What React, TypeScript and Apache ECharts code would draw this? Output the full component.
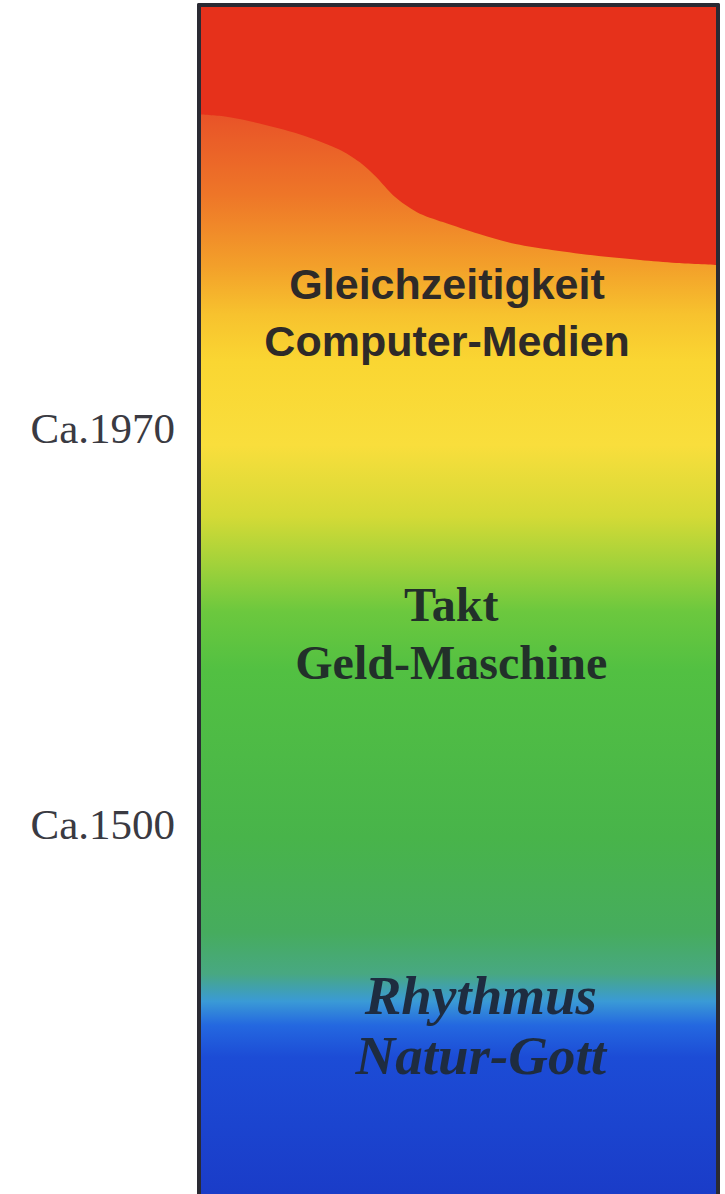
import React, { useEffect, useRef } from "react";
import * as echarts from "echarts";

// Boundary of the red "Gleichzeitigkeit" wave: x = % of width, y = depth from top
const waveX = [0, 5, 10, 19.5, 27, 31, 34, 37.6, 42, 47, 54, 61, 68, 77, 85, 92, 100];
const waveDepth = [110, 112, 117, 130, 145, 158, 172, 192, 208, 218, 230, 240, 246, 252, 256, 259, 261];

// Era labels on the left axis
const eraLabels = ["Ca.1970", "Ca.1500"];
const eraDepth = [425, 823];

// Band texts inside the column
const bandTexts = ["Gleichzeitigkeit\nComputer-Medien", "Takt\nGeld-Maschine", "Rhythmus\nNatur-Gott"];
const bandX = [47.8, 48.6, 54.3];
const bandDepth = [309, 631, 1025];

const DEPTH_MAX = 1194;

export default function App() {
  const ref = useRef<HTMLDivElement>(null);
  useEffect(() => {
    document.body.style.margin = "0";
    const chart = echarts.init(ref.current!, null, { renderer: "svg" });
    const grad = new echarts.graphic.LinearGradient(0, 0, 0, 1, [
      { offset: 0, color: "#e8401e" },
      { offset: 0.09, color: "#e85228" },
      { offset: 0.16, color: "#ee7628" },
      { offset: 0.22, color: "#f3a02a" },
      { offset: 0.26, color: "#f7c22e" },
      { offset: 0.3, color: "#fad632" },
      { offset: 0.37, color: "#f9de3c" },
      { offset: 0.43, color: "#d4da36" },
      { offset: 0.47, color: "#a2d23a" },
      { offset: 0.51, color: "#6cc83e" },
      { offset: 0.56, color: "#52c042" },
      { offset: 0.7, color: "#48b44a" },
      { offset: 0.78, color: "#46ac5e" },
      { offset: 0.815, color: "#48a882" },
      { offset: 0.838, color: "#3a9ad6" },
      { offset: 0.858, color: "#2468e0" },
      { offset: 0.885, color: "#1c4cd6" },
      { offset: 1, color: "#1a3cc8" },
    ]);
    const bandStyles = [
      { fontFamily: "Liberation Sans", fontWeight: "bold", fontStyle: "normal", fontSize: 43, lineHeight: 57, color: "#2e2a28" },
      { fontFamily: "Liberation Serif", fontWeight: "bold", fontStyle: "normal", fontSize: 48, lineHeight: 58, color: "#22302a" },
      { fontFamily: "Liberation Serif", fontWeight: "bold", fontStyle: "italic", fontSize: 55, lineHeight: 60, color: "#1e2c40" },
    ];
    const axisLine = { show: true, lineStyle: { color: "#2a2a33", width: 4 } };
    chart.setOption({
      animation: false,
      grid: {
        left: 199,
        right: 7,
        top: 5,
        bottom: -4,
        show: true,
        backgroundColor: grad,
        borderWidth: 0,
      },
      xAxis: {
        type: "value",
        min: 0,
        max: 100,
        position: "top",
        z: 5,
        axisLine,
        axisTick: { show: false },
        axisLabel: { show: false },
        splitLine: { show: false },
      },
      yAxis: [
        {
          type: "value",
          min: 0,
          max: DEPTH_MAX,
          inverse: true,
          position: "left",
          z: 5,
          axisLine,
          axisTick: { show: false },
          splitLine: { show: false },
          axisLabel: {
            show: true,
            customValues: eraDepth,
            formatter: (v: number) => {
              const i = eraDepth.indexOf(v);
              return i >= 0 ? eraLabels[i] : "";
            },
            margin: 24,
            fontFamily: "Liberation Serif",
            fontSize: 43,
            color: "#3a3a42",
          },
        },
        {
          type: "value",
          min: 0,
          max: DEPTH_MAX,
          inverse: true,
          position: "right",
          z: 5,
          axisLine,
          axisTick: { show: false },
          axisLabel: { show: false },
          splitLine: { show: false },
        },
      ],
      series: [
        {
          type: "line",
          data: waveX.map((x, i) => [x, waveDepth[i]]),
          smooth: 0.3,
          symbol: "none",
          lineStyle: { width: 0 },
          areaStyle: { color: "#e6311b", opacity: 1, origin: "start" },
          z: 2,
        },
        {
          type: "scatter",
          symbolSize: 2,
          itemStyle: { color: "rgba(0,0,0,0)" },
          silent: true,
          z: 3,
          data: bandTexts.map((t, i) => ({
            value: [bandX[i], bandDepth[i]],
            label: {
              show: true,
              position: "inside",
              formatter: t,
              align: "center",
              verticalAlign: "middle",
              opacity: 1,
              textBorderWidth: 0,
              textBorderColor: "transparent",
              ...bandStyles[i],
            },
          })),
        },
      ],
    });
    return () => chart.dispose();
  }, []);
  return <div ref={ref} style={{ width: 725, height: 1194 }} />;
}
